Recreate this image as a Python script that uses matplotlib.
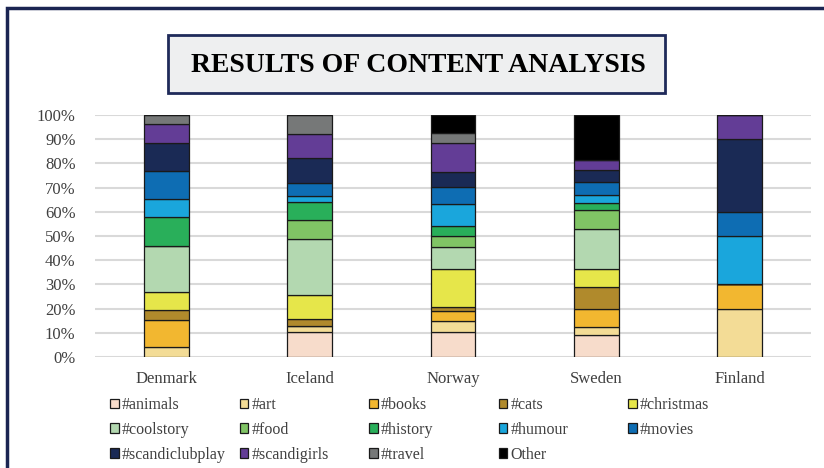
import numpy as np
import matplotlib.pyplot as plt
from matplotlib.patches import Rectangle

plt.rcParams['font.family'] = ['Liberation Serif', 'DejaVu Serif']

countries = ['Denmark', 'Iceland', 'Norway', 'Sweden', 'Finland']
tags = ['#animals', '#art', '#books', '#cats', '#christmas', '#coolstory', '#food',
        '#history', '#humour', '#movies', '#scandiclubplay', '#scandigirls', '#travel', 'Other']
colors = ['#F7DCCB', '#F3DC96', '#F2B730', '#B08A2C', '#E6E64A', '#B3D8B0', '#80C465',
          '#29AF5A', '#1AA6DC', '#0E6DB3', '#1A2A55', '#633D96', '#767878', '#000000']

# share of each hashtag per country (%), columns follow `countries`
animals = [0.0, 10.3, 10.2, 9.2, 0.0]
art = [4.0, 2.5, 4.5, 3.1, 20.0]
books = [11.4, 0.0, 4.3, 7.4, 10.0]
cats = [3.9, 2.8, 1.7, 9.1, 0.0]
christmas = [7.6, 10.2, 15.8, 7.4, 0.0]
coolstory = [19.1, 23.0, 9.1, 16.6, 0.0]
food = [0.0, 7.7, 4.4, 7.9, 0.0]
history = [11.7, 7.7, 4.3, 3.1, 0.0]
humour = [7.7, 2.5, 8.9, 3.1, 20.0]
movies = [11.6, 5.1, 7.2, 5.3, 10.0]
scandiclubplay = [11.6, 10.3, 6.0, 5.1, 30.0]
scandigirls = [7.5, 10.2, 11.9, 4.0, 10.0]
travel = [3.9, 7.7, 4.1, 0.0, 0.0]
other = [0.0, 0.0, 7.6, 18.7, 0.0]

series = [animals, art, books, cats, christmas, coolstory, food, history,
          humour, movies, scandiclubplay, scandigirls, travel, other]

fig = plt.figure(figsize=(8.24, 4.68), dpi=100)
ax = fig.add_axes([95 / 824, 1 - 357 / 468, 716 / 824, 242 / 468])

# outer frame (left + top edges visible)
fig.patches.append(Rectangle((7 / 824, -0.2), 1.2, 1.2 - 8 / 468, transform=fig.transFigure,
                             fill=False, edgecolor='#1B2552', linewidth=2.5))

# title box
fig.patches.append(Rectangle((168 / 824, 1 - 93 / 468), 497 / 824, 58 / 468,
                             transform=fig.transFigure, facecolor='#EEEFF0',
                             edgecolor='#1F2A5A', linewidth=2))
fig.text(418 / 824, 1 - 65 / 468, 'RESULTS OF CONTENT ANALYSIS', ha='center', va='center',
         fontsize=20, fontweight='bold', color='black')

x = np.arange(len(countries))
bottom = np.zeros(len(countries))
handles = []
for tag, vals, col in zip(tags, series, colors):
    vals = np.array(vals)
    bars = ax.bar(x, vals, width=0.314, bottom=bottom, color=col, edgecolor='#1a1a1a',
                  linewidth=0.9, label=tag, zorder=3)
    handles.append(bars)
    bottom += vals

ax.set_xlim(-0.5, len(countries) - 0.5)
ax.set_ylim(0, 100)
ax.set_yticks(np.arange(0, 101, 10))
ax.set_yticklabels([f'{v}%' for v in range(0, 101, 10)])
ax.set_xticks(x)
ax.set_xticklabels(countries)
ax.tick_params(axis='both', length=0, labelsize=12, colors='#404040')
ax.tick_params(axis='y', pad=14)
ax.tick_params(axis='x', pad=10)
ax.grid(axis='y', color='#D9D9D9', linewidth=1.5, zorder=0)
for s in ax.spines.values():
    s.set_visible(False)

# legend: five evenly spaced columns, read row-wise
col_x = [110, 239.5, 369, 498.5, 628]
for c, cx in enumerate(col_x):
    idx = list(range(c, len(tags), 5))
    leg = fig.legend([handles[i] for i in idx], [tags[i] for i in idx], ncol=1,
                     loc='upper left', bbox_to_anchor=(cx / 824, 1 - 397 / 468), frameon=False,
                     fontsize=11.5, handlelength=0.55, handleheight=0.55, handletextpad=0.2,
                     labelspacing=0.55, borderaxespad=0, borderpad=0)
    for t in leg.get_texts():
        t.set_color('#404040')

fig.savefig('out.png', dpi=100)
